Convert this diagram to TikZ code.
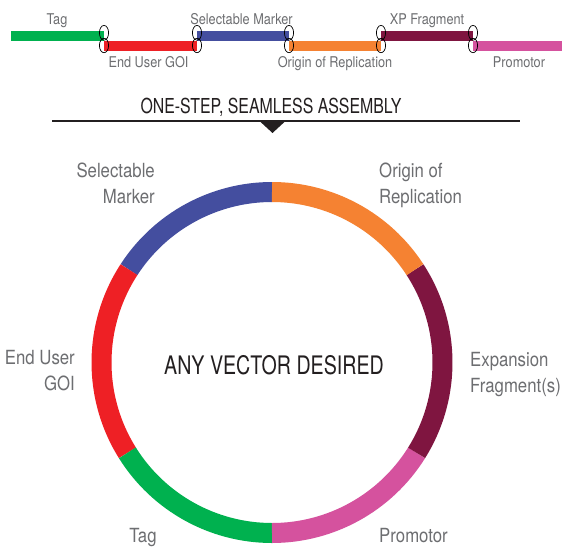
\documentclass[tikz,border=0pt]{standalone}
\usepackage{fontspec}
\setmainfont{TeX Gyre Heros}[FakeStretch=0.86]
\newfontfamily\capsfont{TeX Gyre Heros}[FakeStretch=0.77]
\definecolor{cgreen}{HTML}{00B14F}
\definecolor{cred}{HTML}{EE2025}
\definecolor{cblue}{HTML}{444E9F}
\definecolor{corange}{HTML}{F58232}
\definecolor{cmaroon}{HTML}{7F1540}
\definecolor{cpink}{HTML}{D5529E}
\definecolor{tgray}{HTML}{6D6E71}
\definecolor{tdark}{HTML}{231F20}
\begin{document}
\begin{tikzpicture}[x=1pt,y=-1pt,
  smalllab/.style={inner sep=0pt,text=tgray,font=\fontsize{14.8}{17}\selectfont},
  biglab/.style={inner sep=0pt,text=tgray,font=\fontsize{19.5}{26}\selectfont},
  junc/.style={draw=black,line width=0.7pt},
  seg/.style={line width=20pt}]
\fill[white] (0,0) rectangle (562,546);
\useasboundingbox (0,0) rectangle (562,546);
% top bars
\fill[cgreen]  (11,30.5) rectangle (104,41);
\fill[cred]    (104,40.5) rectangle (197,51);
\fill[cblue]   (197,30.5) rectangle (289,41);
\fill[corange] (289,40.5) rectangle (381,51);
\fill[cmaroon] (381,30.5) rectangle (473,41);
\fill[cpink]   (473,40.5) rectangle (562,51);
\foreach \jx in {104,197,289,381,473}{
  \draw[junc] (\jx,32.8) ellipse [x radius=4.6, y radius=7.4];
  \draw[junc] (\jx,45.5) ellipse [x radius=4.6, y radius=7.2];
}
\node[smalllab,anchor=north] (ltag) at (57,13.5) {Tag};
\node[smalllab,anchor=north] (lgoi) at (148.5,56.5) {End User GOI};
\node[smalllab,anchor=north] (lsel) at (241.5,13.5) {Selectable Marker};
\node[smalllab,anchor=north] (lori) at (335,56.5) {Origin of Replication};
\node[smalllab,anchor=north] (lxp) at (427,13.5) {XP Fragment};
\node[smalllab,anchor=north] (lpro) at (519,56.5) {Promotor};
% assembly line
\node[inner sep=0pt,anchor=north,text=tdark,font=\capsfont\fontsize{20.6}{24}\selectfont] (asm) at (271,97.5) {ONE-STEP, SEAMLESS ASSEMBLY};
\draw[line width=2.2pt,tdark] (52,121) -- (520,121);
\fill[tdark] (259.5,121) -- (285.5,121) -- (272.5,133) -- cycle;
% ring
\coordinate (c) at (272,362.5);
\def\R{170.5}
\foreach \a/\b/\col in {90/147/cblue,147/212/cred,212/270/cgreen,270/328/cpink,328/393/cmaroon,33/90/corange}{
  \draw[seg,\col] (c) ++(-\a:\R) arc[start angle=-\a, end angle=-\b, radius=\R];
}
\node[inner sep=0pt,anchor=north,text=tdark,font=\capsfont\fontsize{25.5}{30}\selectfont] (center) at (274,355) {ANY VECTOR DESIRED};
\node[biglab,anchor=north east,align=right] (rsel) at (155,163) {Selectable\\Marker};
\node[biglab,anchor=north west,align=left] (rori) at (379,163) {Origin of\\Replication};
\node[biglab,anchor=north east,align=right] (rgoi) at (75,350) {End User\\GOI};
\node[biglab,anchor=north west,align=left] (rexp) at (470,352) {Expansion\\Fragment(s)};
\node[biglab,anchor=north] (rtag) at (143,528) {Tag};
\node[biglab,anchor=north] (rpro) at (413.5,528) {Promotor};
\end{tikzpicture}
\end{document}
